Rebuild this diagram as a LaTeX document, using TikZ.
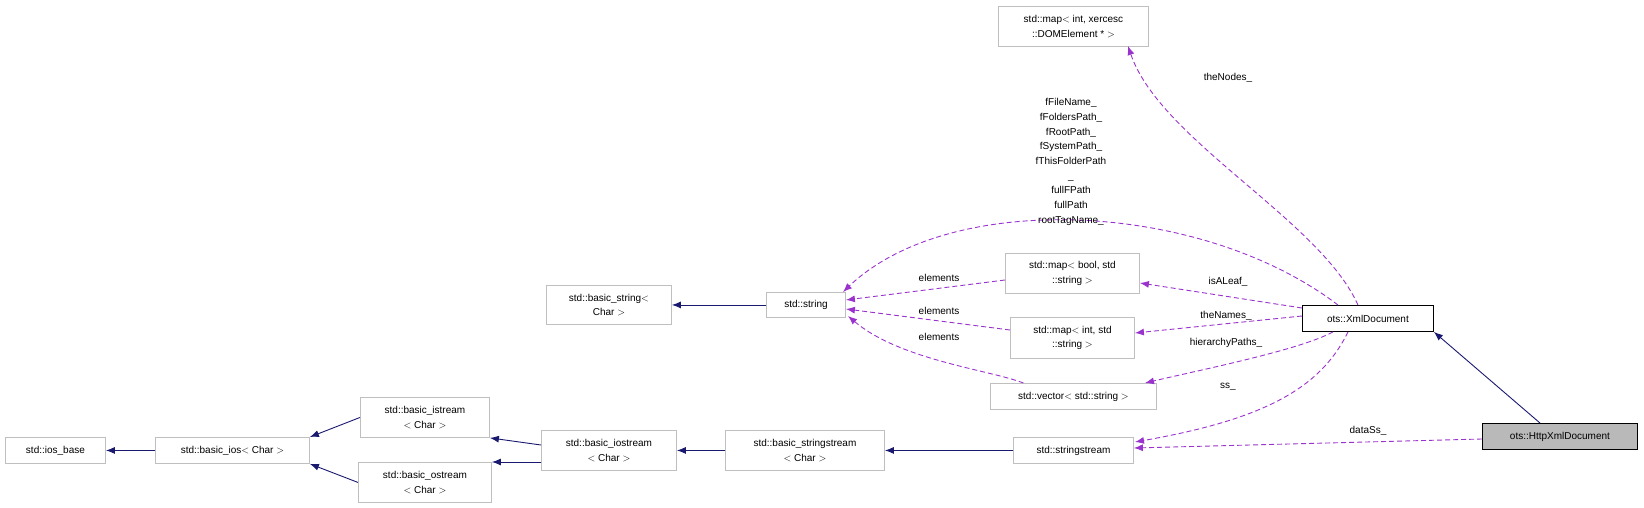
\documentclass[tikz,border=0pt]{standalone}
\usepackage{fontspec}
\setmainfont{Liberation Sans}
\usetikzlibrary{arrows.meta}
\definecolor{navy}{HTML}{191970}
\definecolor{purp}{HTML}{9A32CD}
\definecolor{gbord}{HTML}{BFBFBF}
\begin{document}
\begin{tikzpicture}[x=1pt,y=-1pt,
  font=\fontsize{10}{14.5}\selectfont,
  box/.style={draw=gbord,line width=0.9pt,inner sep=0pt,align=center,anchor=north west},
  inh/.style={draw=navy,line width=0.9pt,-{Latex[length=9pt,width=7pt]}},
  use/.style={draw=purp,line width=0.9pt,dash pattern=on 5pt off 3pt,-{Latex[length=9pt,width=7pt]}},
  lab/.style={inner sep=0pt,align=center}]
\useasboundingbox (0,0) rectangle (1644,508);
\newcommand{\bx}[6]{\node[box,minimum width=#4-#2,minimum height=#5-#3,#6] (#1) at (#2,#3) {};}
\node[box,minimum width=150pt,minimum height=40pt] (dom) at (998,6) {std::map$<$ int, xercesc\\::DOMElement * $>$};
\node[box,minimum width=125pt,minimum height=39pt] (bstr) at (546,285) {std::basic\_string$<$\\Char $>$};
\node[box,minimum width=79pt,minimum height=25pt] (str) at (766,292) {std::string};
\node[box,minimum width=134pt,minimum height=40pt] (mb) at (1005,253) {std::map$<$ bool, std\\::string $>$};
\node[box,minimum width=124pt,minimum height=41pt] (mi) at (1010,317) {std::map$<$ int, std\\::string $>$};
\node[box,minimum width=166pt,minimum height=26pt] (vec) at (990,383) {std::vector$<$ std::string $>$};
\node[box,draw=black,minimum width=131pt,minimum height=26pt] (xml) at (1302,305) {ots::XmlDocument};
\node[box,draw=black,fill=gray!55,minimum width=155pt,minimum height=26pt] (http) at (1482,423) {ots::HttpXmlDocument};
\node[box,minimum width=120pt,minimum height=26pt] (ss) at (1013,437) {std::stringstream};
\node[box,minimum width=159pt,minimum height=40pt] (bss) at (725,430) {std::basic\_stringstream\\$<$ Char $>$};
\node[box,minimum width=135pt,minimum height=40pt] (bio) at (541,430) {std::basic\_iostream\\$<$ Char $>$};
\node[box,minimum width=129pt,minimum height=40pt] (bis) at (360,397) {std::basic\_istream\\$<$ Char $>$};
\node[box,minimum width=133pt,minimum height=40pt] (bos) at (358,462) {std::basic\_ostream\\$<$ Char $>$};
\node[box,minimum width=154pt,minimum height=26pt] (bios) at (155,437) {std::basic\_ios$<$ Char $>$};
\node[box,minimum width=100pt,minimum height=26pt] (iosb) at (5,437) {std::ios\_base};
% inheritance
\draw[inh] (str.west) -- (bstr.east);
\draw[inh] (bios.west) -- (iosb.east);
\draw[inh] (bis.west) -- (bios.north east);
\draw[inh] (bos.west) -- (bios.south east);
\draw[inh] (bio.west |- 0,445) -- (bis.south east);
\draw[inh] (bio.west |- 0,462) -- (bos.north east);
\draw[inh] (bss.west) -- (bio.east);
\draw[inh] (ss.west) -- (bss.east);
\draw[inh] (http.north) ++(-20,0) coordinate (h1) (h1) -- (xml.south east);
% usage
\draw[use] (xml.north) ++(-10,0) coordinate (x1) (x1) .. controls (1320,220) and (1160,140) .. (1128,46) coordinate[pos=0] (dummy1);
\node[lab] (lnodes) at (1228,78) {theNodes\_};
\draw[use] (xml.north) ++(-30,0) coordinate (x2) (x2) .. controls (1200,200) and (950,190) .. (843,292);
\node[lab,font=\fontsize{10}{14.7}\selectfont] (lfile) at (1071,162) {fFileName\_\\fFoldersPath\_\\fRootPath\_\\fSystemPath\_\\fThisFolderPath\\\_\\fullFPath\\fullPath\\rootTagName\_};
\draw[use] (xml.west |- 0,308) -- (mb.east |- 0,283);
\node[lab] (lleaf) at (1228,282) {isALeaf\_};
\draw[use] (xml.west |- 0,316) -- (mi.east |- 0,333);
\node[lab] (lnames) at (1226,316) {theNames\_};
\draw[use] (xml.south) ++(-35,0) coordinate (x3) (x3) .. controls (1300,350) and (1200,370) .. (1145,383);
\node[lab] (lhier) at (1226,343) {hierarchyPaths\_};
\draw[use] (xml.south) ++(-20,0) coordinate (x4) (x4) .. controls (1320,390) and (1260,420) .. (1135,442);
\node[lab] (lss) at (1228,387) {ss\_};
\draw[use] (http.west |- 0,439) -- (ss.east |- 0,448);
\node[lab] (ldata) at (1368,431) {dataSs\_};
\draw[use] (mb.west |- 0,280) -- (str.east |- 0,300);
\draw[use] (mi.west |- 0,330) -- (str.east |- 0,309);
\draw[use] (vec.north) ++(-50,0) coordinate (v1) (v1) .. controls (990,370) and (900,360) .. (848,316);
\node[lab] (le1) at (939,278) {elements};
\node[lab] (le2) at (939,311) {elements};
\node[lab] (le3) at (939,337) {elements};
\end{tikzpicture}
\end{document}
